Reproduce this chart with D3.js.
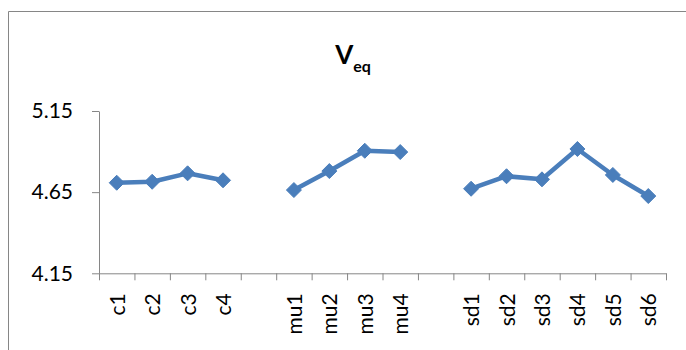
<!DOCTYPE html>
<html>
<head>
<meta charset="utf-8">
<script src="https://cdn.jsdelivr.net/npm/d3@7"></script>
<style>
  html, body { margin: 0; padding: 0; background: #fff; }
  svg { display: block; }
</style>
</head>
<body>
<svg id="chart" width="686" height="350"></svg>
<script>
// Category labels along the x axis (blank entries separate the groups)
const categories = ["c1", "c2", "c3", "c4", "", "mu1", "mu2", "mu3", "mu4", "", "sd1", "sd2", "sd3", "sd4", "sd5", "sd6"];
// V_eq for each category (null = gap between groups)
const values = [4.708, 4.714, 4.766, 4.723, null, 4.663, 4.780, 4.905, 4.897, null, 4.671, 4.748, 4.729, 4.916, 4.756, 4.626];
// Tick values on the y axis
const yTicks = [4.15, 4.65, 5.15];

const svg = d3.select("#chart");
const font = "Lato, 'Liberation Sans', sans-serif";
const axisColor = "#868686";
const lineColor = "#4a7ebb";

const plotLeft = 99, plotRight = 666, plotTop = 111, plotBottom = 273.3;

// outer chart frame
svg.append("path")
  .attr("d", `M8.5,360 V11.5 H700`)
  .attr("fill", "none")
  .attr("stroke", axisColor)
  .attr("stroke-width", 1);

// title V_eq
const title = svg.append("text")
  .attr("x", 353).attr("y", 64)
  .attr("text-anchor", "middle")
  .attr("font-family", font)
  .attr("font-weight", "bold")
  .attr("fill", "#000");
title.append("tspan").attr("font-size", 26).text("V");
title.append("tspan").attr("font-size", 16).attr("dy", 8).text("eq");

const idx = d3.range(categories.length);
const x = d3.scaleBand().domain(idx).range([plotLeft, plotRight]).paddingInner(0).paddingOuter(0);
const y = d3.scaleLinear().domain([4.15, 5.15]).range([plotBottom, plotTop]);

// y axis
const yAxis = svg.append("g")
  .attr("transform", `translate(${plotLeft},0)`)
  .call(d3.axisLeft(y).tickValues(yTicks).tickFormat(d3.format(".2f")).tickSize(7).tickSizeOuter(0));
yAxis.select(".domain").attr("stroke", axisColor);
yAxis.selectAll(".tick line").attr("stroke", axisColor);
yAxis.selectAll(".tick text")
  .attr("font-family", font).attr("font-size", 21).attr("fill", "#000")
  .attr("x", -26);

// x axis: boundary ticks between categories
const xb = d3.scaleLinear().domain([0, categories.length]).range([plotLeft, plotRight]);
const xAxis = svg.append("g")
  .attr("transform", `translate(0,${plotBottom})`)
  .call(d3.axisBottom(xb).tickValues(d3.range(categories.length + 1)).tickFormat("").tickSize(7).tickSizeOuter(0));
xAxis.select(".domain").attr("stroke", axisColor);
xAxis.selectAll(".tick line").attr("stroke", axisColor);

// rotated category labels
svg.append("g").selectAll("text")
  .data(idx.filter(i => categories[i] !== ""))
  .join("text")
  .attr("transform", i => `translate(${x(i) + x.bandwidth() / 2 + 8},${plotBottom + 20}) rotate(-90)`)
  .attr("text-anchor", "end")
  .attr("font-family", font).attr("font-size", 21).attr("fill", "#000")
  .text(i => categories[i]);

// series line (broken at the gaps)
const line = d3.line()
  .defined(i => values[i] !== null)
  .x(i => x(i) + x.bandwidth() / 2)
  .y(i => y(values[i]));

svg.append("path")
  .datum(idx)
  .attr("d", line)
  .attr("fill", "none")
  .attr("stroke", lineColor)
  .attr("stroke-width", 4.5)
  .attr("stroke-linejoin", "round");

// diamond markers
const r = 7.5;
svg.append("g").selectAll("path")
  .data(idx.filter(i => values[i] !== null))
  .join("path")
  .attr("transform", i => `translate(${x(i) + x.bandwidth() / 2},${y(values[i])})`)
  .attr("d", `M0,${-r} L${r},0 L0,${r} L${-r},0 Z`)
  .attr("fill", lineColor)
  .attr("stroke", lineColor)
  .attr("stroke-width", 1);
</script>
</body>
</html>
